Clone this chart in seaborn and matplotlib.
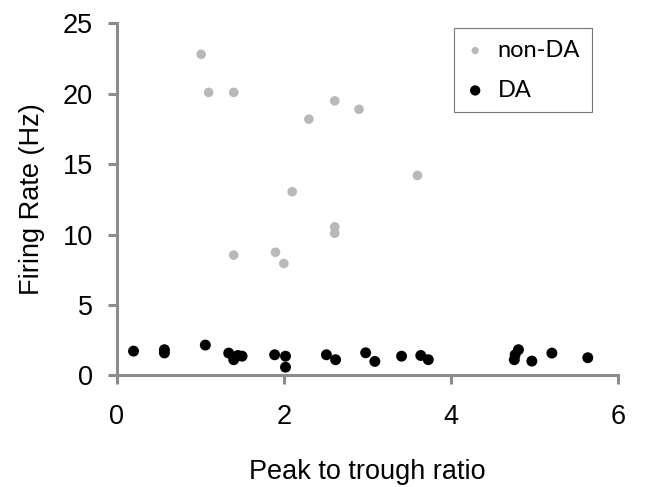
import seaborn as sns
import pandas as pd
import matplotlib.pyplot as plt

# non-DA neurons
nonda_ratio = [1.01, 1.10, 1.40, 2.61, 2.90, 2.30, 3.60, 2.10, 2.61, 2.61, 1.40, 1.90, 2.00]
nonda_rate = [22.8, 20.1, 20.1, 19.5, 18.9, 18.2, 14.2, 13.05, 10.55, 10.1, 8.55, 8.75, 7.95]

# DA neurons
da_ratio = [0.20, 0.57, 0.57, 1.06, 1.34, 1.40, 1.45, 1.50, 1.89, 2.02, 2.02, 2.51,
            2.62, 2.98, 3.09, 3.41, 3.64, 3.73, 4.76, 4.77, 4.81, 4.97, 5.21, 5.64]
da_rate = [1.73, 1.83, 1.60, 2.16, 1.59, 1.12, 1.42, 1.37, 1.47, 1.37, 0.59, 1.47,
           1.12, 1.61, 1.00, 1.37, 1.42, 1.12, 1.12, 1.47, 1.83, 1.02, 1.59, 1.26]

x_ticks = [0, 2, 4, 6]
y_ticks = [0, 5, 10, 15, 20, 25]

nonda_df = pd.DataFrame({'ratio': nonda_ratio, 'rate': nonda_rate})
da_df = pd.DataFrame({'ratio': da_ratio, 'rate': da_rate})

sns.set_style('white')
plt.rcParams['font.family'] = ['Liberation Sans', 'DejaVu Sans']
plt.rcParams['text.color'] = 'black'
plt.rcParams['axes.labelcolor'] = 'black'

fig = plt.figure(figsize=(6.49, 4.87), dpi=100)
ax = fig.add_axes([0.180, 0.229, 0.772, 0.723])

sns.scatterplot(data=nonda_df, x='ratio', y='rate', color='#b9b9b9', s=48,
                edgecolor='none', label='non-DA', ax=ax)
sns.scatterplot(data=da_df, x='ratio', y='rate', color='black', s=62,
                edgecolor='none', label='DA', ax=ax)

ax.set_xlim(0, 6)
ax.set_ylim(0, 25)
ax.set_xticks(x_ticks)
ax.set_yticks(y_ticks)
ax.set_xlabel('Peak to trough ratio', fontsize=19.5, labelpad=21)
ax.set_ylabel('Firing Rate (Hz)', fontsize=19.5, labelpad=13)

spine_col = '#8c8c8c'
for side in ['top', 'right']:
    ax.spines[side].set_visible(False)
for side in ['left', 'bottom']:
    ax.spines[side].set_color(spine_col)
    ax.spines[side].set_linewidth(2.2)
ax.tick_params(axis='both', which='major', direction='out', length=6.5, width=2.2,
               color=spine_col, labelcolor='black', labelsize=19.5,
               bottom=True, left=True)
ax.tick_params(axis='x', pad=14)
ax.tick_params(axis='y', pad=10.5)

leg = ax.legend(loc='upper right', bbox_to_anchor=(0.948, 0.987), borderaxespad=0,
                frameon=True, fancybox=False, labelspacing=0.8, handletextpad=0.55,
                handlelength=0.8, borderpad=0.5,
                prop={'family': 'Lato', 'size': 17})
leg.get_frame().set_edgecolor('#555555')
leg.get_frame().set_linewidth(0.8)
handles = leg.legend_handles
handles[0].set_sizes([28])
handles[1].set_sizes([55])

fig.savefig('out.png', dpi=100)
